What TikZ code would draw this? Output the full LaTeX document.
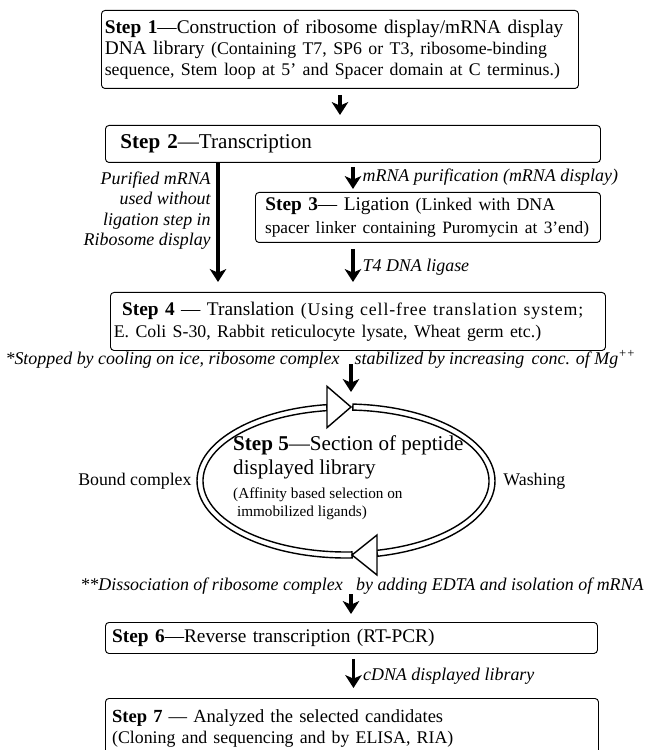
\documentclass[tikz,border=0pt]{standalone}
\usepackage{fontspec}
\setmainfont{Liberation Serif}
\usepackage{tikz}
\usetikzlibrary{positioning, arrows.meta, shapes.geometric}

\newcommand{\stepfont}{\fontsize{16.5}{18}\selectfont}
\newcommand{\titlefont}{\fontsize{18}{20}\selectfont}
\newcommand{\smallfont}{\fontsize{15.2}{18}\selectfont}
\newcommand{\notefont}{\fontsize{15.3}{17.5}\selectfont\itshape}

\begin{document}
\begin{tikzpicture}[
    >={Stealth[length=11pt, width=14pt, inset=3pt]},
    stepbox/.style={
      draw,
      rounded corners=3pt,
      line width=0.8pt,
      anchor=north west,
      align=left,
      inner xsep=0.1cm,
      inner ysep=0.08cm,
      font=\stepfont
    },
    flow/.style={->, line width=3pt},
    band/.style={draw, fill=white, line width=1.2pt},
    note/.style={font=\notefont},
    side/.style={font=\smallfont}
  ]
    \useasboundingbox (0,0) rectangle (19.41,-22.5);

    % the step boxes
    \node[stepbox, text width=14.11cm, minimum height=2.34cm] (s1) at (3.03,-0.3)
      {\textbf{Step 1}—Construction of ribosome display/mRNA display\\
       DNA library {\smallfont (Containing T7, SP6 or T3, ribosome-binding}\\
       {\smallfont sequence, Stem loop at 5’ and Spacer domain at C terminus.)}};
    \node[stepbox, font=\titlefont, text width=13.95cm, inner xsep=0.45cm, minimum height=1.11cm] (s2) at (3.15,-3.75)
      {\textbf{Step 2}—Transcription};
    \node[stepbox, text width=9.95cm, inner xsep=0.2cm, minimum height=1.5cm] (s3) at (7.65,-5.76)
      {\,\textbf{Step 3}— Ligation {\smallfont (Linked with DNA}\\[1.5pt]
       {\fontsize{14.8}{18}\selectfont \,spacer linker containing Puromycin at 3’end)}};
    \node[stepbox, text width=14.65cm, minimum height=1.74cm] (s4) at (3.3,-8.76)
      {\hspace{0.25cm}\textbf{Step 4} — Translation
       {\smallfont\addfontfeature{LetterSpace=5}(Using cell-free translation system;}\\[1pt]
       {\smallfont E. Coli S-30, Rabbit reticulocyte lysate, Wheat germ etc.)}};
    \node[stepbox, text width=14.36cm, inner xsep=0.2cm, minimum height=0.93cm] (s6) at (3.15,-18.66)
      {\textbf{Step 6}—Reverse transcription (RT-PCR)};
    \node[stepbox, font=\fontsize{15.8}{18}\selectfont, text width=14.39cm, inner xsep=0.2cm, minimum height=1.8cm] (s7) at (3.15,-20.94)
      {\textbf{Step 7} — Analyzed the selected candidates\\
       {\smallfont (Cloning and sequencing and by ELISA, RIA)}};

    % selection cycle
    \node[ellipse, minimum width=8.76cm, minimum height=4.44cm, inner sep=0pt, outer sep=0pt] (ring) at (10.38,-14.43) {};
    \draw[band] ([shift={(272.4:4.47 and 2.31)}]ring.center)
      arc[start angle=272.4, end angle=97.5, x radius=4.47cm, y radius=2.31cm]
      -- ([shift={(97.5:4.29 and 2.13)}]ring.center)
      arc[start angle=97.5, end angle=272.4, x radius=4.29cm, y radius=2.13cm] -- cycle;
    \draw[band] ([shift={(87.3:4.47 and 2.31)}]ring.center)
      arc[start angle=87.3, end angle=-77.7, x radius=4.47cm, y radius=2.31cm]
      -- ([shift={(-77.7:4.29 and 2.13)}]ring.center)
      arc[start angle=-77.7, end angle=87.3, x radius=4.29cm, y radius=2.13cm] -- cycle;
    \draw[band] ([shift={(-0.57,0.62)}]ring.north) -- ([xshift=0.15cm]ring.north)
      -- ([shift={(-0.57,-0.62)}]ring.north) -- cycle;
    \draw[band] ([shift={(0.93,0.6)}]ring.south) -- ([xshift=0.18cm]ring.south)
      -- ([shift={(0.93,-0.6)}]ring.south) -- cycle;

    \node[font=\titlefont, align=left, inner sep=0pt, right=0.99cm of ring.west, yshift=0.09cm] (s5)
      {\textbf{Step 5}—Section of peptide\\
       displayed library\\[0.5pt]
       {\fontsize{13}{15}\selectfont (Affinity based selection on}\\[-3.8pt]
       {\fontsize{13}{15}\selectfont \ immobilized ligands)}};
    \node[side, left=0.13cm of ring] (bound) {Bound complex};
    \node[side, right=0.22cm of ring] (wash) {Washing};

    % footnotes under step 4 and after the cycle
    \node[note, anchor=base] (note1) at (9.62,-10.92)
      {*Stopped by cooling on ice, ribosome complex\hspace{0.45cm}stabilized by increasing\, conc. of Mg\textsuperscript{++}};
    \node[note, anchor=base] (note2) at (10.86,-17.7)
      {**Dissociation of ribosome complex\hspace{0.4cm}by adding EDTA and isolation of mRNA};

    % arrows
    \coordinate (skip) at ([xshift=3.39cm]s2.south west);
    \coordinate (cut1) at ([xshift=0.15cm]ring.north |- note1.base);
    \coordinate (cut2) at ([xshift=0.15cm]ring.south |- note2.base);
    \coordinate (rt) at ([xshift=0.06cm]s6.south);

    \draw[flow, shorten <=0.18cm, shorten >=0.3cm] (s1.south) -- (s1.south |- s2.north);
    \draw[flow, shorten <=0.12cm, shorten >=0.09cm] (s2.south) -- (s2.south |- s3.north)
      node[midway, right, note, xshift=0.12cm] {mRNA purification (mRNA display)};
    \draw[flow, shorten >=0.3cm] (skip) -- (skip |- s4.north)
      node[pos=.37, left, note, align=right, xshift=-0.05cm] {Purified mRNA\\used without\\ligation step in\\Ribosome display};
    \draw[flow, shorten <=0.18cm, shorten >=0.3cm] (s2.south |- s3.south) -- (s2.south |- s4.north)
      node[midway, right, note, xshift=0.12cm] {T4 DNA ligase};
    \draw[flow, shorten >=0.45cm] (cut1) -- (cut1 |- ring.north);
    \draw[flow, shorten <=0.12cm, shorten >=0.24cm] (cut2) -- (cut2 |- s6.north);
    \draw[flow, shorten <=0.15cm, shorten >=0.3cm] (rt) -- (rt |- s7.north)
      node[midway, right, note, xshift=0.12cm] {cDNA displayed library};
\end{tikzpicture}
\end{document}
